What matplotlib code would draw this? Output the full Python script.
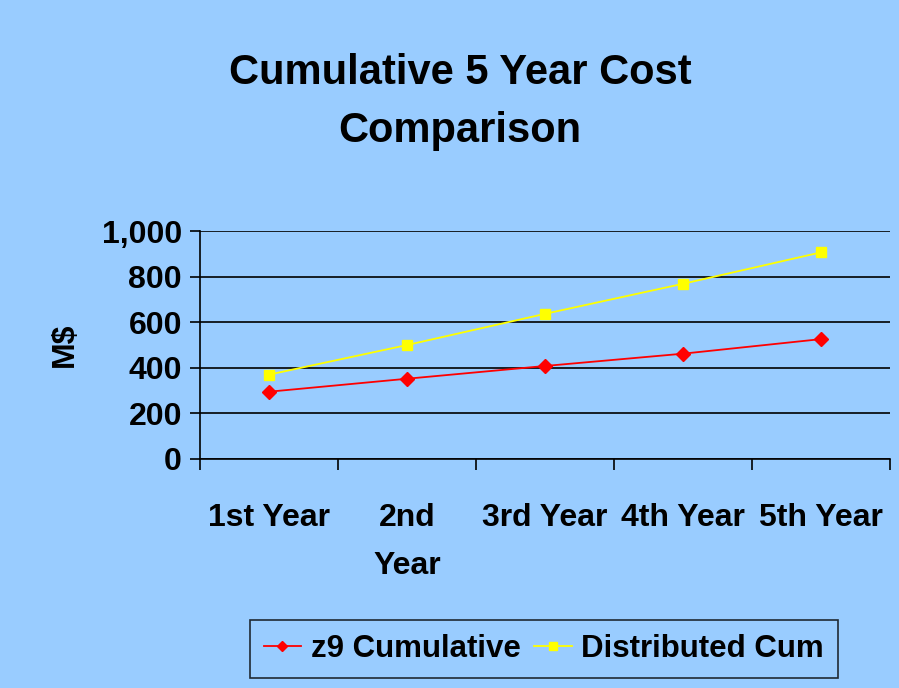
import matplotlib
matplotlib.use('Agg')
import matplotlib.pyplot as plt
from matplotlib.ticker import FuncFormatter

# data (M$)
years = ['1st Year', '2nd\nYear', '3rd Year', '4th Year', '5th Year']
z9_cum = [295, 352, 408, 462, 526]
dist_cum = [370, 500, 637, 769, 907]

BG = '#99CCFF'
plt.rcParams['font.family'] = ['Liberation Sans', 'DejaVu Sans']
plt.rcParams['font.weight'] = 'bold'

fig = plt.figure(figsize=(8.99, 6.88), dpi=100, facecolor=BG)
ax = fig.add_axes([0.2225, 0.333, 0.7675, 0.331])
ax.set_facecolor(BG)

x = [i + 0.5 for i in range(len(years))]
ax.plot(x, z9_cum, color='#FF0000', marker='D', markersize=7, lw=1.3,
        label='z9 Cumulative')
ax.plot(x, dist_cum, color='#FFFF00', marker='s', markersize=7, lw=1.3,
        label='Distributed Cum')

ax.set_xlim(0, len(years))
ax.set_ylim(0, 1000)
ax.set_yticks(range(0, 1001, 200))
ax.yaxis.set_major_formatter(FuncFormatter(lambda v, p: f'{int(v):,}'))
ax.grid(axis='y', color='black', lw=1.2)
ax.set_axisbelow(True)

ax.set_xticks(range(len(years) + 1))
ax.set_xticklabels([])
ax.set_xticks(x, minor=True)
ax.set_xticklabels(years, minor=True, fontsize=23, fontweight='bold',
                   va='top', linespacing=1.75)
ax.tick_params(axis='x', which='minor', length=0, pad=32)
ax.tick_params(axis='x', which='major', length=8, width=1.2, direction='out')
ax.tick_params(axis='y', length=7, width=1.2, labelsize=23, pad=6)
for t in ax.get_yticklabels():
    t.set_fontweight('bold')

for s in ['top', 'right']:
    ax.spines[s].set_visible(False)
for s in ['left', 'bottom']:
    ax.spines[s].set_color('black')
    ax.spines[s].set_linewidth(1.2)

ax.set_ylabel('M$', fontsize=23, fontweight='bold', labelpad=16)

fig.text(0.512, 0.852, 'Cumulative 5 Year Cost\nComparison', ha='center',
         va='center', fontsize=30, fontweight='bold', linespacing=1.58)

leg = fig.legend(loc='center', bbox_to_anchor=(0.605, 0.057), ncol=2,
                 fontsize=22.5, frameon=True, fancybox=False, facecolor=BG,
                 edgecolor='black', handlelength=1.2, handletextpad=0.3,
                 columnspacing=0.45, borderpad=0.45, markerscale=0.8)
leg.get_frame().set_linewidth(1.2)
for t in leg.get_texts():
    t.set_fontweight('bold')

fig.savefig('out.png', dpi=100, facecolor=BG)
